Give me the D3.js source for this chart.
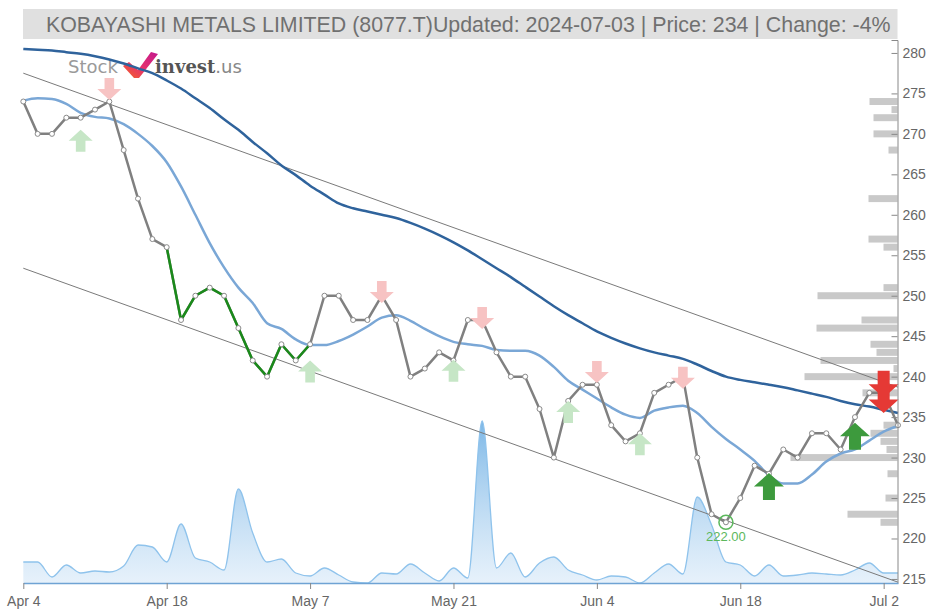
<!DOCTYPE html>
<html><head><meta charset="utf-8">
<script src="https://cdn.jsdelivr.net/npm/d3@7"></script>
<style>
body{margin:0;background:#fff;}
svg{display:block;font-family:"Liberation Sans",Arial,sans-serif;}
</style>
</head><body>
<svg id="c" width="928" height="610"></svg>
<script>
// ---------- DATA ----------
const titleText = "KOBAYASHI METALS LIMITED (8077.T)Updated: 2024-07-03 | Price: 234 | Change: -4%";
const dates = ["2024-04-04","2024-04-05","2024-04-08","2024-04-09","2024-04-10","2024-04-11","2024-04-12","2024-04-15","2024-04-16","2024-04-17",
"2024-04-18","2024-04-19","2024-04-22","2024-04-23","2024-04-24","2024-04-25","2024-04-26","2024-04-30","2024-05-01","2024-05-02",
"2024-05-07","2024-05-08","2024-05-09","2024-05-10","2024-05-13","2024-05-14","2024-05-15","2024-05-16","2024-05-17","2024-05-20",
"2024-05-21","2024-05-22","2024-05-23","2024-05-24","2024-05-27","2024-05-28","2024-05-29","2024-05-30","2024-05-31","2024-06-03",
"2024-06-04","2024-06-05","2024-06-06","2024-06-07","2024-06-10","2024-06-11","2024-06-12","2024-06-13","2024-06-14","2024-06-17",
"2024-06-18","2024-06-19","2024-06-20","2024-06-21","2024-06-24","2024-06-25","2024-06-26","2024-06-27","2024-06-28","2024-07-01",
"2024-07-02","2024-07-03"];
const price = [274,270,270,272,272,273,274,268,262,257,
256,247,250,251,250,246,242,240,244,242,
244,250,250,247,247,250,247,240,241,243,
242,247,247,243,240,240,236,230,237,239,
239,234,232,233,238,239,240,230,223,222,
225,229,228,231,230,233,233,231,235,238,
238,234];
const maShort = [274.1,274.4,274.3,273.7,272.6,272.1,271.9,271.2,270.0,268.5,
266.5,263.5,260.0,256.5,253.5,251.0,249.1,246.6,245.9,244.6,
243.9,243.9,244.4,245.2,246.2,247.3,247.6,246.9,245.9,245.0,
244.3,244.0,243.8,243.3,243.2,243.2,242.6,241.2,239.5,238.4,
237.3,236.2,235.3,234.9,235.8,236.2,236.4,235.5,233.8,232.3,
231.0,229.6,227.8,226.8,226.8,227.9,229.5,230.5,231.0,232.1,
233.2,233.9];
const maLong = [280.5,280.4,280.3,280.1,279.9,279.6,279.2,278.7,278.1,277.5,
276.6,275.6,274.4,273.2,271.8,270.5,269.0,267.6,266.1,264.9,
263.6,262.5,261.4,260.8,260.4,260.0,259.6,259.0,258.3,257.5,
256.6,255.6,254.5,253.4,252.3,251.1,249.9,248.7,247.6,246.6,
245.6,244.8,244.1,243.5,243.0,242.6,242.2,241.5,240.7,240.0,
239.6,239.3,239.0,238.7,238.3,237.9,237.5,237.0,236.6,236.3,
235.9,235.5];
const volume = [2100,2100,600,1800,1000,1200,1100,1700,3800,3600,
2100,5900,2500,2100,1300,9400,5000,2100,2400,1000,
700,1500,800,100,0,1000,900,1900,1000,200,
1500,500,16200,1500,3000,600,2000,2600,1300,800,
300,700,600,0,1000,1900,900,8600,5800,2100,
1800,700,1800,700,800,1000,900,800,1300,2000,
1000,1000];
const xTickIndex = [0,10,20,30,40,50,60];
const xTickLabels = ["Apr 4","Apr 18","May 7","May 21","Jun 4","Jun 18","Jul 2"];
const yTickValues = [215,220,225,230,235,240,245,250,255,260,265,270,275,280];
const profilePrice = [274,273,272,270,268,262,257,256,251,250,247,246,244,243,242,241,240,238,234,233,232,231,230,228,225,223,222];
const profileVolume = [28,6,24,24,9,29,29,14,14,80,36,81,27,21,77,4,93,35,14,27,17,11,107,10,12,50,17];
const channelIndex = [0,61];
const channelUpper = [277.5,238.7];
const channelLower = [253.4,214.6];
const greenSegment = [10,20];
const buyWeakIndex = [4,20,30,38,43];
const buyWeakLevel = [270.5,242.0,242.1,237.0,233.0];
const sellWeakIndex = [6,25,32,40,46];
const sellWeakLevel = [274.2,249.1,245.9,239.2,238.5];
const buyStrongIndex = [52,58];
const buyStrongLevel = [228.1,234.3];
const sellStrongIndex = [60,60];
const sellStrongLevel = [237.4,235.5];
const lowIndex = 49;
const lowLabel = "222.00";

// ---------- SCALES ----------
const svg = d3.select("#c");
const x = d3.scaleLinear().domain([0,61]).range([23.3,898]);
const y = d3.scaleLinear().domain([214.5,281.6]).range([583,40]);
const vy = d3.scaleLinear().domain([0,16200]).range([583,421]);
const pw = d3.scaleLinear().domain([0,107]).range([0,107]);

// ---------- TITLE ----------
svg.append("rect").attr("x",23).attr("y",9).attr("width",874.5).attr("height",30).attr("fill","#e0e0e0");
const tt = svg.append("text").attr("x",46).attr("y",31.5).attr("fill","#707070")
  .style("font-size","20px").text(titleText);
const tw = tt.node().getComputedTextLength();
tt.style("font-size",(20*845/tw).toFixed(2)+"px");

// ---------- LOGO ----------
const logo = svg.append("g");
logo.append("text").attr("x",68).attr("y",73).attr("fill","#9a9a9a")
  .style("font-family","'DejaVu Sans',sans-serif").style("font-size","18px").text("Stock");
const defs = svg.append("defs");
const lg = defs.append("linearGradient").attr("id","lg").attr("x1","0").attr("y1","1").attr("x2","1").attr("y2","0");
lg.append("stop").attr("offset","0").attr("stop-color","#f26522");
lg.append("stop").attr("offset","0.45").attr("stop-color","#e8336b");
lg.append("stop").attr("offset","1").attr("stop-color","#c2188f");
logo.append("path").attr("d","M123,66 L129,62 L138,70 L151,52 L158,54 L139,78 L134,78 Z").attr("fill","url(#lg)");
const lt = logo.append("text").attr("x",155).attr("y",73).style("font-size","18px");
lt.append("tspan").style("font-family","'DejaVu Serif',serif").style("font-weight","bold").attr("fill","#555").text("invest");
lt.append("tspan").style("font-family","'DejaVu Sans',sans-serif").attr("fill","#888").text(".us");

// ---------- VOLUME AREA ----------
const vg = defs.append("linearGradient").attr("id","vg").attr("x1","0").attr("y1","0").attr("x2","0").attr("y2","1");
vg.append("stop").attr("offset","0").attr("stop-color","#6fb0e4").attr("stop-opacity",0.9);
vg.append("stop").attr("offset","1").attr("stop-color","#d6e8f8").attr("stop-opacity",0.6);
const idx = d3.range(price.length);
svg.append("path").datum(idx)
  .attr("d", d3.area().x(i=>x(i)).y0(583).y1(i=>vy(volume[i])).curve(d3.curveMonotoneX))
  .attr("fill","url(#vg)");
svg.append("path").datum(idx)
  .attr("d", d3.line().x(i=>x(i)).y(i=>vy(volume[i])).curve(d3.curveMonotoneX))
  .attr("fill","none").attr("stroke","#8fc3ec").attr("stroke-width",1.3);

// ---------- VOLUME PROFILE ----------
svg.append("g").selectAll("rect").data(profilePrice).join("rect")
  .attr("x",(d,i)=>897.5-pw(profileVolume[i]))
  .attr("width",(d,i)=>pw(profileVolume[i]))
  .attr("y",d=>y(d+0.43))
  .attr("height",d=>y(d-0.43)-y(d+0.43))
  .attr("fill","#c9c9c9");

// ---------- CHANNEL ----------
[channelUpper,channelLower].forEach(arr=>{
  svg.append("line").attr("x1",x(channelIndex[0])).attr("y1",y(arr[0]))
    .attr("x2",x(channelIndex[1])).attr("y2",y(arr[1]))
    .attr("stroke","#7a7a7a").attr("stroke-width",1);
});

// ---------- MOVING AVERAGES ----------
svg.append("path").datum(idx).attr("d",d3.line().x(i=>x(i)).y(i=>y(maLong[i])).curve(d3.curveMonotoneX))
  .attr("fill","none").attr("stroke","#2f639c").attr("stroke-width",2.5);
svg.append("path").datum(idx).attr("d",d3.line().x(i=>x(i)).y(i=>y(maShort[i])).curve(d3.curveMonotoneX))
  .attr("fill","none").attr("stroke","#7aa7d6").attr("stroke-width",2.5);

// ---------- PRICE ----------
const pline = d3.line().x(i=>x(i)).y(i=>y(price[i]));
svg.append("path").datum(idx).attr("d",pline).attr("fill","none").attr("stroke","#808080").attr("stroke-width",2.5).attr("stroke-linejoin","round");
svg.append("path").datum(d3.range(greenSegment[0],greenSegment[1]+1)).attr("d",pline)
  .attr("fill","none").attr("stroke","#1a8a1a").attr("stroke-width",2.5).attr("stroke-linejoin","round");
svg.append("g").selectAll("circle").data(idx).join("circle")
  .attr("cx",i=>x(i)).attr("cy",i=>y(price[i])).attr("r",2.5)
  .attr("fill","#fff").attr("stroke","#8a8a8a").attr("stroke-width",1);

// ---------- SIGNAL ARROWS ----------
function arrow(cx, tip, w, h, up){
  const hh=h*0.5, sw=w*0.4, s = up?1:-1;
  const p=[[cx,tip],[cx+w/2,tip+s*hh],[cx+sw/2,tip+s*hh],[cx+sw/2,tip+s*h],[cx-sw/2,tip+s*h],[cx-sw/2,tip+s*hh],[cx-w/2,tip+s*hh]];
  return "M"+p.map(q=>q.join(",")).join("L")+"Z";
}
const ag = svg.append("g");
buyWeakIndex.forEach((d,i)=>ag.append("path").attr("d",arrow(x(d),y(buyWeakLevel[i]),24,22,true)).attr("fill","#c6e6c6"));
sellWeakIndex.forEach((d,i)=>ag.append("path").attr("d",arrow(x(d),y(sellWeakLevel[i]),24,22,false)).attr("fill","#f7c3c3"));
buyStrongIndex.forEach((d,i)=>ag.append("path").attr("d",arrow(x(d),y(buyStrongLevel[i]),30,27,true)).attr("fill","#3d9a3d"));
sellStrongIndex.forEach((d,i)=>ag.append("path").attr("d",arrow(x(d),y(sellStrongLevel[i]),30,27,false)).attr("fill","#e53935"));

// ---------- LOW ANNOTATION ----------
svg.append("circle").attr("cx",x(lowIndex)).attr("cy",y(price[lowIndex])).attr("r",7)
  .attr("fill","none").attr("stroke","#5cb85c").attr("stroke-width",1.5);
svg.append("text").attr("x",x(lowIndex)).attr("y",y(price[lowIndex])+19).attr("text-anchor","middle")
  .attr("fill","#5cb85c").style("font-size","13px").text(lowLabel);

// ---------- AXES ----------
const ya = svg.append("g").attr("transform","translate(897.5,0)")
  .call(d3.axisRight(y).tickValues(yTickValues).tickSizeInner(-6).tickSizeOuter(-6).tickPadding(5));
ya.select(".domain").attr("stroke","#888");
ya.selectAll(".tick line").attr("stroke","#888");
ya.selectAll("text").attr("fill","#666").style("font-size","14px").style("font-family","'Liberation Sans',Arial,sans-serif");

const xa = svg.append("g").attr("transform","translate(0,583)")
  .call(d3.axisBottom(x).tickValues(xTickIndex).tickFormat((d,i)=>xTickLabels[i]).tickSizeInner(6).tickSizeOuter(0).tickPadding(7));
xa.select(".domain").attr("stroke","#6fa3d4").attr("stroke-width",1.5);
xa.selectAll(".tick line").attr("stroke","#888");
xa.selectAll("text").attr("fill","#666").style("font-size","14px").style("font-family","'Liberation Sans',Arial,sans-serif");
</script>
</body></html>
